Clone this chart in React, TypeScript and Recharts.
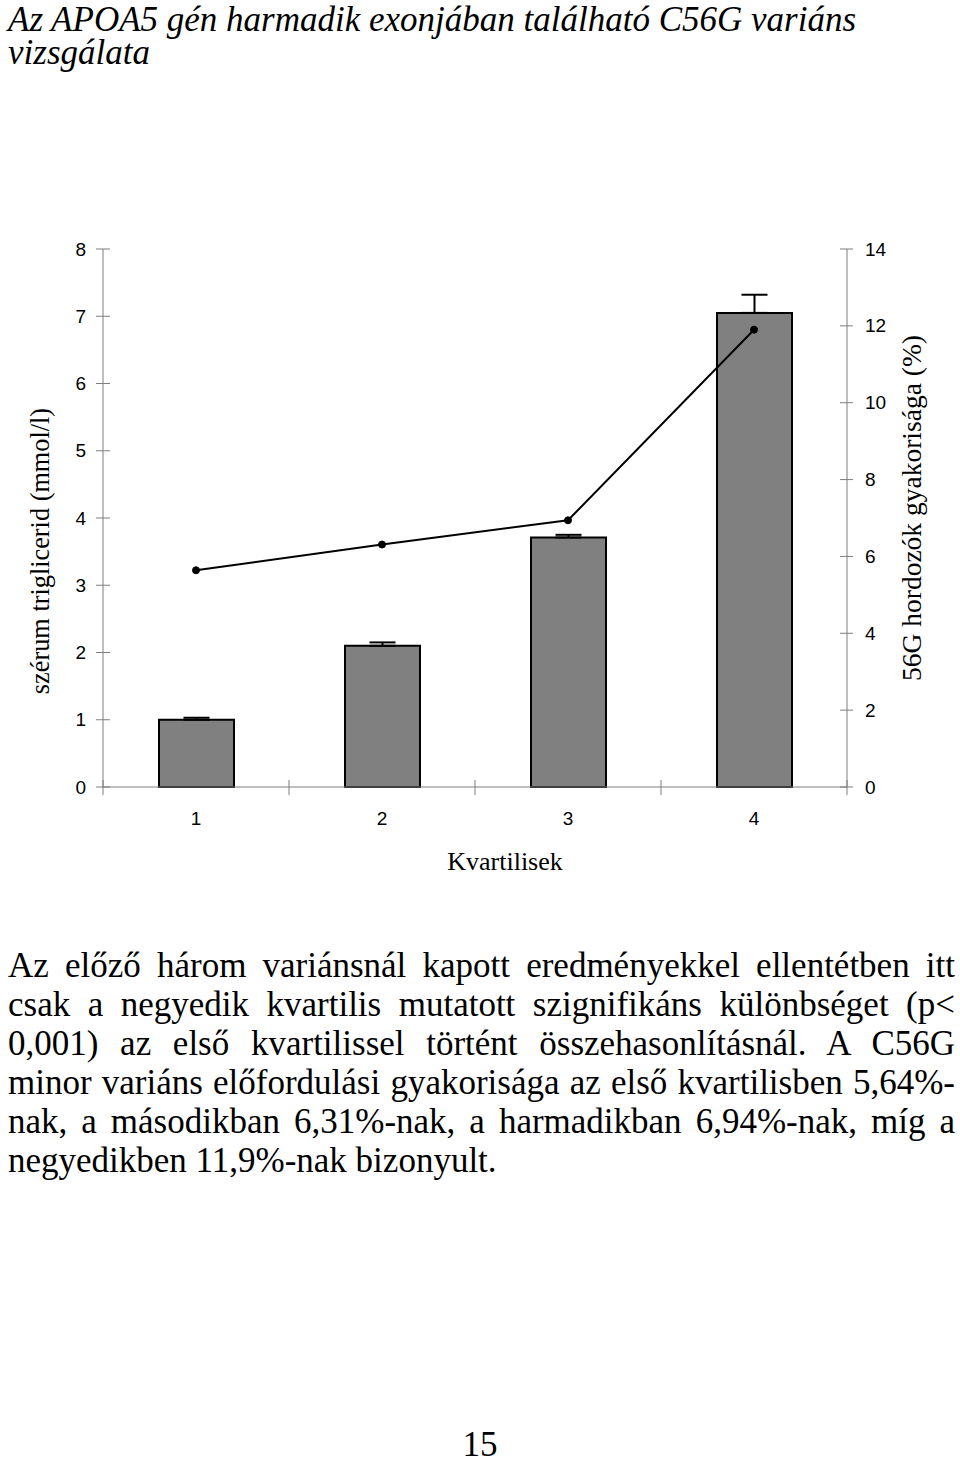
import {
  Bar,
  ComposedChart,
  ErrorBar,
  Line,
  XAxis,
  YAxis,
} from "recharts";

// kvartilisek, trigliceridszint (mmol/l), hiba, 56G gyakoriság (%)
const kvartilisek = ["1", "2", "3", "4"];
const trigliceridErtekek = [1.0, 2.1, 3.71, 7.05];
const trigliceridHibak = [0.03, 0.05, 0.04, 0.27];
const hordozoGyakorisag = [5.64, 6.31, 6.94, 11.9];
const balTickek = [0, 1, 2, 3, 4, 5, 6, 7, 8];
const jobbTickek = [0, 2, 4, 6, 8, 10, 12, 14];

const chartData = kvartilisek.map((k, i) => ({
  kvartilis: k,
  trig: trigliceridErtekek[i],
  trigErr: [0, trigliceridHibak[i]],
  freq: hordozoGyakorisag[i],
}));

const bekezdesSorok = [
  "Az előző három variánsnál kapott eredményekkel ellentétben itt",
  "csak a negyedik kvartilis mutatott szignifikáns különbséget (p<",
  "0,001) az első kvartilissel történt összehasonlításnál. A C56G",
  "minor variáns előfordulási gyakorisága az első kvartilisben 5,64%-",
  "nak, a másodikban 6,31%-nak, a harmadikban 6,94%-nak, míg a",
  "negyedikben 11,9%-nak bizonyult.",
];

const CHART_W = 960;
const CHART_H = 900;
const AXIS_W = 60;
const X_AXIS_H = 30;
const MARGIN = { top: 249, right: 53, bottom: 83, left: 43 };
const PLOT_W = CHART_W - MARGIN.left - MARGIN.right - 2 * AXIS_W;
const HALF_BAND = PLOT_W / kvartilisek.length / 2;

const tickFont = {
  fontFamily: "'Liberation Sans', Arial, sans-serif",
  fontSize: 19,
  fill: "#000",
};
const axisGray = "#7f7f7f";
const serif = "'Liberation Serif', 'Times New Roman', serif";

function LeftTick({ x, y, payload }: any) {
  return (
    <g>
      <line x1={x - 7} x2={x + 7} y1={y} y2={y} stroke={axisGray} />
      <text x={x - 17} y={y} textAnchor="end" dominantBaseline="central" {...tickFont}>
        {payload.value}
      </text>
    </g>
  );
}

function RightTick({ x, y, payload }: any) {
  return (
    <g>
      <line x1={x - 7} x2={x + 6} y1={y} y2={y} stroke={axisGray} />
      <text x={x + 18} y={y} textAnchor="start" dominantBaseline="central" {...tickFont}>
        {payload.value}
      </text>
    </g>
  );
}

function BottomTick({ x, y, payload, index }: any) {
  const last = index === kvartilisek.length - 1;
  return (
    <g>
      <line x1={x - HALF_BAND} x2={x - HALF_BAND} y1={y - 7} y2={y + 8} stroke={axisGray} />
      {last && (
        <line x1={x + HALF_BAND} x2={x + HALF_BAND} y1={y - 7} y2={y + 8} stroke={axisGray} />
      )}
      <text x={x} y={y + 31} textAnchor="middle" dominantBaseline="central" {...tickFont}>
        {payload.value}
      </text>
    </g>
  );
}

export default function App() {
  return (
    <div
      style={{
        position: "absolute",
        left: 0,
        top: 0,
        width: 960,
        height: 1463,
        background: "#fff",
        fontFamily: serif,
        color: "#000",
      }}
    >
      <div
        style={{
          position: "absolute",
          left: 8,
          top: 3,
          fontSize: 35,
          lineHeight: "33px",
          fontStyle: "italic",
          whiteSpace: "nowrap",
        }}
      >
        <div>Az APOA5 gén harmadik exonjában található C56G variáns</div>
        <div>vizsgálata</div>
      </div>

      <div style={{ position: "absolute", left: 0, top: 0 }}>
        <ComposedChart width={CHART_W} height={CHART_H} data={chartData} margin={MARGIN}>
          <XAxis
            dataKey="kvartilis"
            height={X_AXIS_H}
            axisLine={{ stroke: axisGray }}
            tickLine={false}
            tickSize={0}
            tickMargin={0}
            tick={<BottomTick />}
            interval={0}
          />
          <YAxis
            yAxisId="left"
            width={AXIS_W}
            domain={[0, 8]}
            ticks={balTickek}
            interval={0}
            axisLine={{ stroke: axisGray }}
            tickLine={false}
            tickSize={0}
            tickMargin={0}
            tick={<LeftTick />}
          />
          <YAxis
            yAxisId="right"
            orientation="right"
            width={AXIS_W}
            domain={[0, 14]}
            ticks={jobbTickek}
            interval={0}
            axisLine={{ stroke: axisGray }}
            tickLine={false}
            tickSize={0}
            tickMargin={0}
            tick={<RightTick />}
          />
          <Bar
            yAxisId="left"
            dataKey="trig"
            barSize={75}
            fill="#808080"
            stroke="#000"
            strokeWidth={2}
            isAnimationActive={false}
          >
            <ErrorBar dataKey="trigErr" direction="y" width={13} stroke="#000" strokeWidth={2} />
          </Bar>
          <Line
            yAxisId="right"
            type="linear"
            dataKey="freq"
            stroke="#000"
            strokeWidth={2}
            dot={{ r: 3.5, fill: "#000", stroke: "#000", strokeWidth: 1 }}
            activeDot={false}
            isAnimationActive={false}
          />
        </ComposedChart>
      </div>

      <div
        style={{
          position: "absolute",
          left: 41,
          top: 551,
          transform: "translate(-50%, -50%) rotate(-90deg)",
          fontSize: 26.3,
          whiteSpace: "nowrap",
        }}
      >
        szérum triglicerid (mmol/l)
      </div>
      <div
        style={{
          position: "absolute",
          left: 912,
          top: 508,
          transform: "translate(-50%, -50%) rotate(-90deg)",
          fontSize: 27.5,
          whiteSpace: "nowrap",
        }}
      >
        56G hordozók gyakorisága (%)
      </div>
      <div
        style={{
          position: "absolute",
          left: 505,
          top: 862,
          transform: "translate(-50%, -50%)",
          fontSize: 26,
          whiteSpace: "nowrap",
        }}
      >
        Kvartilisek
      </div>

      <div
        style={{
          position: "absolute",
          left: 8,
          top: 946,
          width: 947,
          fontSize: 35,
          lineHeight: "39px",
        }}
      >
        {bekezdesSorok.map((sor, i) => (
          <div
            key={i}
            style={{
              whiteSpace: "nowrap",
              textAlign: "justify",
              textAlignLast: i < bekezdesSorok.length - 1 ? "justify" : "left",
            }}
          >
            {sor}
          </div>
        ))}
      </div>

      <div
        style={{
          position: "absolute",
          left: 480,
          top: 1445,
          transform: "translate(-50%, -50%)",
          fontSize: 35,
        }}
      >
        15
      </div>
    </div>
  );
}
